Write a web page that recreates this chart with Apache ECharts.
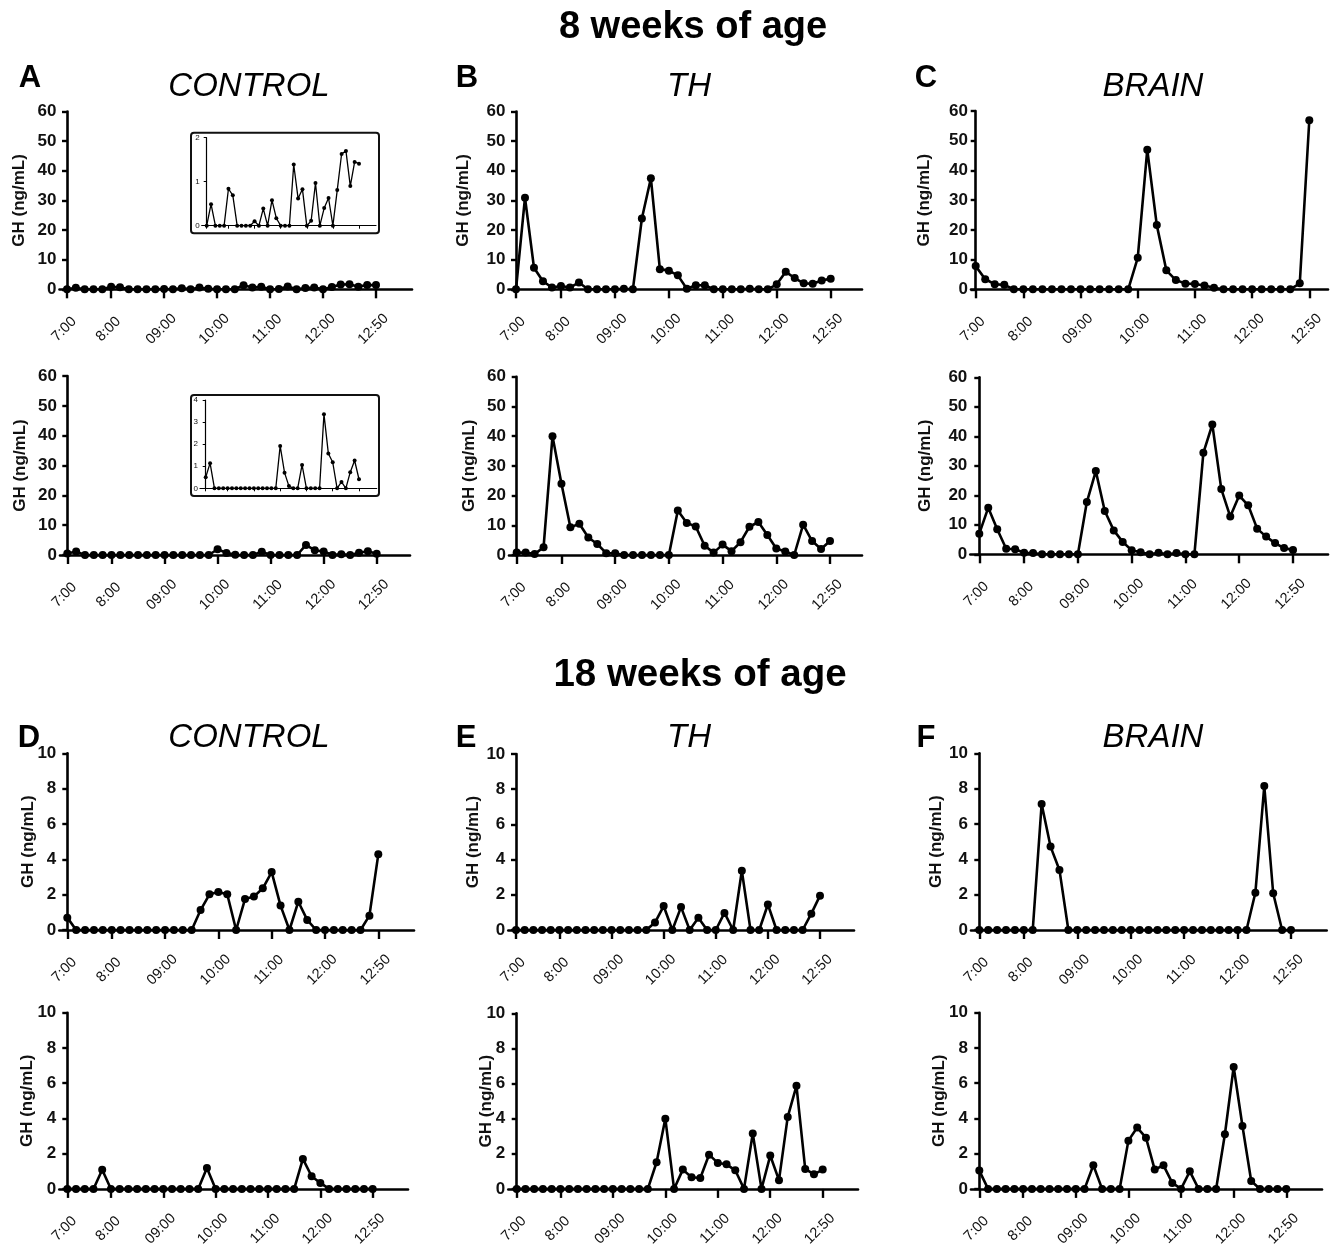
<!DOCTYPE html>
<html><head><meta charset="utf-8">
<script src="https://cdn.jsdelivr.net/npm/echarts@6/dist/echarts.min.js"></script>
<style>html,body{margin:0;padding:0;background:#fff}#c{width:1333px;height:1249px}</style>
</head><body><div id="c"></div>
<script>
// ---- data (GH ng/mL, samples every 10 min, 36 per animal) ----
const timeLabels = ['7:00','8:00','09:00','10:00','11:00','12:00','12:50'];
const labelIdx = [0,5,11,17,23,29,35];

const ctrl8a  = [0,0.49,0,0,0,0.84,0.69,0,0,0,0,0.1,0,0.39,0,0.58,0.17,0,0,0,1.39,0.62,0.83,0,0.11,0.97,0,0.40,0.63,0,0.81,1.63,1.70,0.9,1.45,1.41];
const ctrl8b  = [0.5,1.14,0,0,0,0,0,0,0,0,0,0,0,0,0,0,0,1.92,0.71,0.1,0,0,1.06,0,0,0,0,3.36,1.58,1.18,0,0.29,0,0.73,1.26,0.41];
const th8a    = [0,30.9,7.3,2.7,0.6,1.1,0.6,2.3,0,0,0,0,0.2,0,23.9,37.5,6.8,6.3,4.7,0.2,1.35,1.35,0,0,0,0,0.2,0,0,1.7,5.9,3.8,2.0,1.9,3.0,3.6];
const th8b    = [0.8,0.8,0.3,2.6,40,24,9.3,10.5,5.9,3.7,0.6,0.6,0,0,0,0,0,0,15,10.8,9.6,3.1,0.8,3.5,1.3,4.3,9.5,11.1,6.7,2.2,1.2,0,10.2,4.7,2.0,4.7];
const brain8a = [7.8,3.4,1.7,1.5,0,0,0,0,0,0,0,0,0,0,0,0,0,10.6,47,21.6,6.4,3.1,1.9,1.8,1.3,0.5,0,0,0,0,0,0,0,0,2.0,56.9];
const brain8b = [7.0,15.8,8.5,1.9,1.7,0.5,0.45,0,0,0,0,0,17.7,28.2,14.7,8.1,4.2,1.4,0.7,0,0.5,0,0.45,0,0,34.4,44,22.1,12.8,19.9,16.6,8.7,6.0,3.8,2.1,1.5];
const ctrl18a = [0.7,0,0,0,0,0,0,0,0,0,0,0,0,0,0,1.13,2.02,2.15,2.02,0,1.75,1.89,2.36,3.28,1.38,0,1.6,0.57,0,0,0,0,0,0,0.81,4.28];
const ctrl18b = [0,0,0,0,1.09,0,0,0,0,0,0,0,0,0,0,0,1.19,0,0,0,0,0,0,0,0,0,0,1.7,0.72,0.34,0,0,0,0,0,0];
const th18a   = [0,0,0,0,0,0,0,0,0,0,0,0,0,0,0,0,0.42,1.36,0,1.3,0,0.7,0,0,0.97,0,3.37,0,0,1.45,0,0,0,0,0.93,1.95];
const th18b   = [0,0,0,0,0,0,0,0,0,0,0,0,0,0,0,0,1.52,4.0,0,1.1,0.66,0.62,1.95,1.48,1.4,1.06,0,3.16,0,1.9,0.5,4.1,5.87,1.14,0.83,1.1];
const brain18a= [0,0,0,0,0,0,0,7.13,4.72,3.4,0,0,0,0,0,0,0,0,0,0,0,0,0,0,0,0,0,0,0,0,0,2.11,8.15,2.08,0,0];
const brain18b= [1.04,0,0,0,0,0,0,0,0,0,0,0,0,1.34,0,0,0,2.74,3.48,2.91,1.1,1.34,0.34,0,1.0,0,0,0,3.1,6.92,3.57,0.45,0,0,0,0];

// ---- layout (pixels) ----
const FONT = 'Liberation Sans, Arial, sans-serif';
const panels = [
  {d:ctrl8a,  ymax:60,yint:10, ax:59.5, top:111.5,y0:289.3, first:67,   last:376,   end:412,  gap:40.5},
  {d:th8a,    ymax:60,yint:10, ax:508.5,top:111.5,y0:289.3, first:516,  last:830.7, end:862,  gap:45.5},
  {d:brain8a, ymax:60,yint:10, ax:971,  top:111,  y0:289.3, first:975.7,last:1309.3,end:1328, gap:47},
  {d:ctrl8b,  ymax:60,yint:10, ax:60,   top:376,  y0:555,   first:67.3, last:376.7, end:410,  gap:40.5},
  {d:th8b,    ymax:60,yint:10, ax:509,  top:376.7,y0:555,   first:516.7,last:830,   end:862,  gap:40},
  {d:brain8b, ymax:60,yint:10, ax:970.3,top:377.3,y0:554.3, first:979.3,last:1293,  end:1328, gap:45},
  {d:ctrl18a, ymax:10,yint:2,  ax:59.3, top:753.3,y0:930,   first:67.3, last:378.3, end:414,  gap:31},
  {d:th18a,   ymax:10,yint:2,  ax:508.3,top:754,  y0:930,   first:516,  last:820,   end:854,  gap:35},
  {d:brain18a,ymax:10,yint:2,  ax:971,  top:753.3,y0:930,   first:979.3,last:1291,  end:1326.7,gap:35.5},
  {d:ctrl18b, ymax:10,yint:2,  ax:59.3, top:1012.7,y0:1189.3,first:67.3,last:372.7, end:408,  gap:32},
  {d:th18b,   ymax:10,yint:2,  ax:508.3,top:1013.3,y0:1189.3,first:516.7,last:822.7,end:858,  gap:22.5},
  {d:brain18b,ymax:10,yint:2,  ax:971,  top:1012.7,y0:1189, first:979.3,last:1286.3,end:1322, gap:32}
];
const insets = [
  {d:ctrl8a, ymax:2, yint:1, ax:201.7, top:137.7, y0:225.7, first:206.7, last:359, end:376,   box:[191,132.7,188,100.6]},
  {d:ctrl8b, ymax:4, yint:1, ax:200,   top:400,   y0:488.3, first:205.7, last:359, end:376.7, box:[191,395,188,101]}
];

const grid=[], xAxis=[], yAxis=[], series=[], graphic=[];
function xr(p){const step=(p.last-p.first)/35;return {min:-(p.first-p.ax)/step, max:35+(p.end-p.last)/step};}
panels.forEach((p,i)=>{
  const r=xr(p);
  grid.push({left:p.ax, top:p.top, width:p.end-p.ax, height:p.y0-p.top});
  xAxis.push({gridIndex:i,type:'value',min:r.min,max:r.max,
    axisLine:{show:true,lineStyle:{color:'#000',width:2.6}},
    axisTick:{show:true,customValues:labelIdx,length:9,lineStyle:{color:'#000',width:2.4}},
    axisLabel:{customValues:labelIdx,formatter:v=>timeLabels[labelIdx.indexOf(Math.round(v))],
      rotate:45,align:'center',verticalAlign:'middle',padding:[0,8,0,0],
      fontSize:14.5,color:'#111',margin:37,fontFamily:FONT},
    splitLine:{show:false}});
  yAxis.push({gridIndex:i,type:'value',min:0,max:p.ymax,interval:p.yint,
    name:'GH (ng/mL)',nameLocation:'middle',nameGap:p.gap-9,nameMoveOverlap:false,
    nameTextStyle:{fontWeight:'bold',fontSize:17,color:'#111',fontFamily:FONT},
    axisLine:{show:true,lineStyle:{color:'#000',width:2.6}},
    axisTick:{show:true,length:5,lineStyle:{color:'#000',width:2.4}},
    axisLabel:{fontWeight:'bold',fontSize:17,color:'#111',margin:3,fontFamily:FONT},
    splitLine:{show:false}});
  series.push({type:'line',xAxisIndex:i,yAxisIndex:i,data:p.d.map((v,k)=>[k,v]),
    symbol:'circle',symbolSize:8,showSymbol:true,lineStyle:{color:'#000',width:2.6},itemStyle:{color:'#000'},z:3});
});
insets.forEach((p,j)=>{
  const i=panels.length+j, r=xr(p);
  grid.push({left:p.ax, top:p.top, width:p.end-p.ax, height:p.y0-p.top});
  xAxis.push({gridIndex:i,type:'value',min:r.min,max:r.max,
    axisLine:{show:true,lineStyle:{color:'#000',width:1.2}},
    axisTick:{show:true,customValues:labelIdx,length:3,lineStyle:{color:'#000',width:1}},
    axisLabel:{show:false},splitLine:{show:false}});
  yAxis.push({gridIndex:i,type:'value',min:0,max:p.ymax,interval:p.yint,
    axisLine:{show:true,lineStyle:{color:'#000',width:1.2}},
    axisTick:{show:true,length:3,lineStyle:{color:'#000',width:1}},
    axisLabel:{fontSize:8,color:'#111',margin:2,fontFamily:FONT},splitLine:{show:false}});
  series.push({type:'line',xAxisIndex:i,yAxisIndex:i,data:p.d.map((v,k)=>[k,v]),
    symbol:'circle',symbolSize:4,lineStyle:{color:'#000',width:1.3},itemStyle:{color:'#000'},z:5});
  graphic.push({type:'rect',shape:{x:p.box[0],y:p.box[1],width:p.box[2],height:p.box[3],r:3},
    style:{fill:'none',stroke:'#111',lineWidth:2},z:10});
});

const T=(text,left,top,size,opt)=>Object.assign({text,left,top,padding:0,textAlign:'center',
  textStyle:Object.assign({fontSize:size,color:'#000',fontFamily:FONT,fontWeight:'bold'},opt||{})});
const IT={fontWeight:'normal',fontStyle:'italic'};
const title=[
  T('8 weeks of age',693,9,38),
  T('18 weeks of age',700,656,38.5),
  T('A',30,63,31), T('B',467,63,31), T('C',926,63,31),
  T('D',29,723,31), T('E',466,723,31), T('F',926,723,31),
  T('CONTROL',249,70,33,IT), T('TH',689,70,33,IT), T('BRAIN',1153,70,33,IT),
  T('CONTROL',249,721,33,IT), T('TH',689,721,33,IT), T('BRAIN',1153,721,33,IT)
];

const chart=echarts.init(document.getElementById('c'),null,{renderer:'canvas'});
chart.setOption({animation:false,backgroundColor:'#fff',title,grid,xAxis,yAxis,series,graphic});
</script></body></html>
